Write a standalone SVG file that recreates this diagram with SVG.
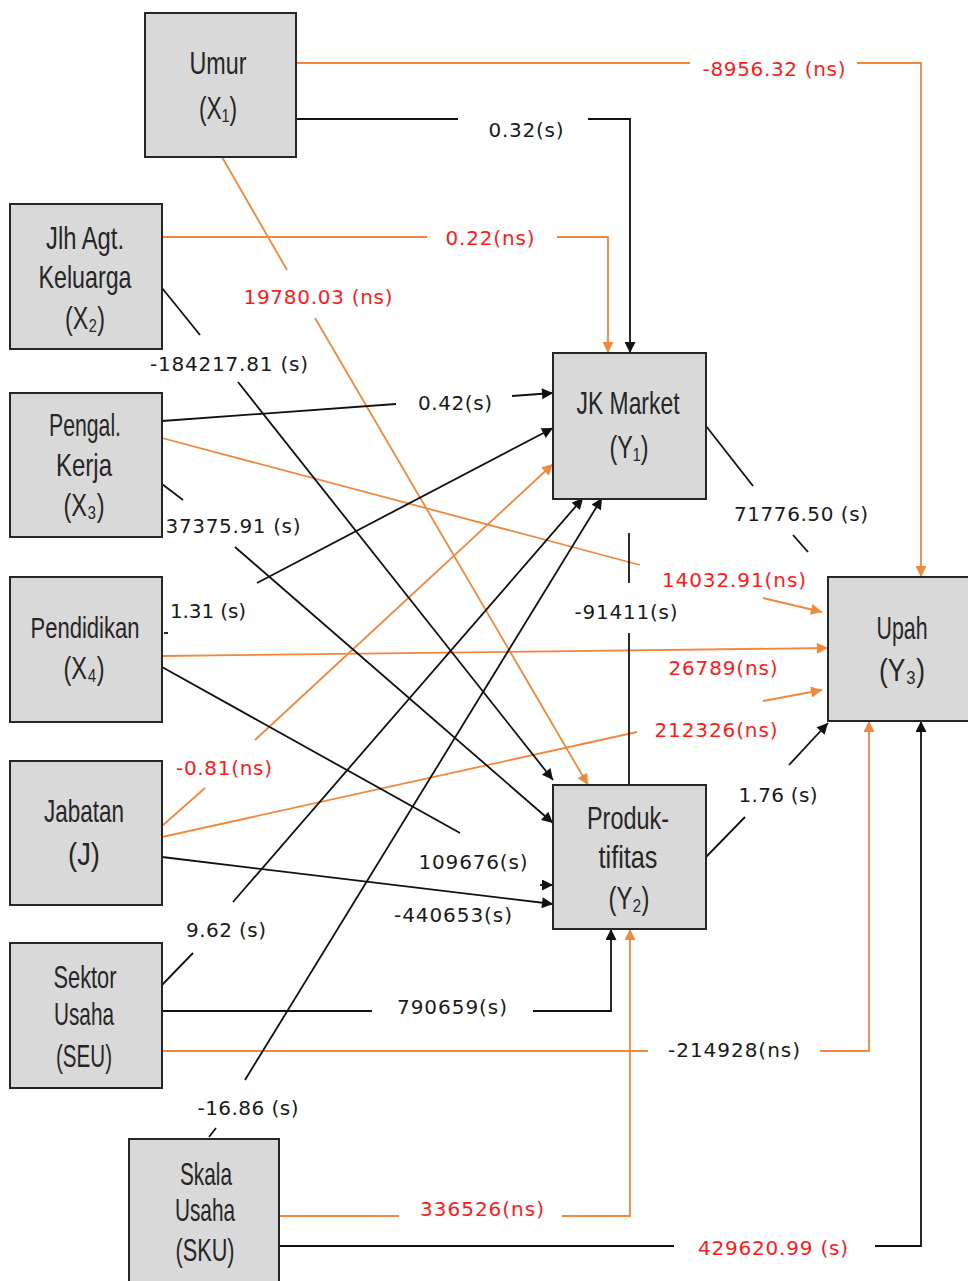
<svg xmlns="http://www.w3.org/2000/svg" width="968" height="1281" viewBox="0 0 968 1281">
<style>
.box{fill:#d9d9d9;stroke:#262626;stroke-width:2}
.nt{font-family:"Liberation Sans","DejaVu Sans",Arial,sans-serif;font-size:32px;fill:#262626;text-anchor:middle}
.k{fill:none;stroke:#111;stroke-width:1.8}
.o{fill:none;stroke:#f0883e;stroke-width:1.8}
.lbl{font-family:"DejaVu Sans",Verdana,sans-serif;font-size:20px;text-anchor:middle}
.s{fill:#1a1a1a}
.ns{fill:#ff1a1a}
</style>
<defs>
<marker id="ak" viewBox="0 0 10 10" refX="10" refY="5" markerWidth="13" markerHeight="11" markerUnits="userSpaceOnUse" orient="auto"><path d="M0,0 L10,5 L0,10 z" fill="#111"/></marker>
<marker id="ao" viewBox="0 0 10 10" refX="10" refY="5" markerWidth="13" markerHeight="11" markerUnits="userSpaceOnUse" orient="auto"><path d="M0,0 L10,5 L0,10 z" fill="#f0883e"/></marker>
</defs>
<rect width="968" height="1281" fill="#fff"/>

<g id="connectors">
<path class="o" d="M296,63 H690"/><path class="o" d="M857,63 H921 V577" marker-end="url(#ao)"/>
<path class="o" d="M162,237 H427"/><path class="o" d="M557,237 H608 V353" marker-end="url(#ao)"/>
<path class="o" d="M222,157 L287,270"/><path class="o" d="M315,318 L588,785" marker-end="url(#ao)"/>
<path class="o" d="M162,438 L640,565"/><path class="o" d="M763,598 L822,612" marker-end="url(#ao)"/>
<path class="o" d="M162,656 L828,648" marker-end="url(#ao)"/>
<path class="o" d="M162,826 L205,788"/><path class="o" d="M255,740 L553,464" marker-end="url(#ao)"/>
<path class="o" d="M162,837 L637,732"/><path class="o" d="M763,701 L822,690" marker-end="url(#ao)"/>
<path class="o" d="M162,1051 H648"/><path class="o" d="M820,1051 H869 V721" marker-end="url(#ao)"/>
<path class="o" d="M279,1216 H399"/><path class="o" d="M562,1216 H630 V929" marker-end="url(#ao)"/>
<path class="k" d="M296,119 H458"/><path class="k" d="M588,119 H630 V353" marker-end="url(#ak)"/>
<path class="k" d="M162,288 L200,335"/><path class="k" d="M238,382 L553,780" marker-end="url(#ak)"/>
<path class="k" d="M162,421 L396,404"/><path class="k" d="M512,396 L553,393" marker-end="url(#ak)"/>
<path class="k" d="M162,484 L183,500"/><path class="k" d="M235,547 L553,823" marker-end="url(#ak)"/>
<path class="k" d="M164,633 H168"/><path class="k" d="M257,583 L553,428" marker-end="url(#ak)"/>
<path class="k" d="M162,667 L460,833"/><path class="k" d="M540,885 L553,885" marker-end="url(#ak)"/>
<path class="k" d="M162,857 L553,904" marker-end="url(#ak)"/>
<path class="k" d="M162,985 L193,953"/><path class="k" d="M233,902 L583,498" marker-end="url(#ak)"/>
<path class="k" d="M162,1011 H372"/><path class="k" d="M533,1011 H611 V929" marker-end="url(#ak)"/>
<path class="k" d="M209,1137 L216,1128"/><path class="k" d="M245,1080 L602,498" marker-end="url(#ak)"/>
<path class="k" d="M279,1246 H674"/><path class="k" d="M875,1246 H921 V721" marker-end="url(#ak)"/>
<path class="k" d="M706,426 L753,486"/><path class="k" d="M793,535 L808,552"/>
<path class="k" d="M629,533 V583"/><path class="k" d="M629,633 V785"/>
<path class="k" d="M706,857 L745,817"/><path class="k" d="M789,765 L828,723" marker-end="url(#ak)"/>

<text class="lbl ns" x="774" y="76" textLength="143">-8956.32 (ns)</text>
<text class="lbl s" x="526" y="137" textLength="75">0.32(s)</text>
<text class="lbl ns" x="490" y="245" textLength="89">0.22(ns)</text>
<text class="lbl ns" x="318" y="304" textLength="149">19780.03 (ns)</text>
<text class="lbl s" x="229" y="371" textLength="158">-184217.81 (s)</text>
<text class="lbl s" x="455" y="410" textLength="74">0.42(s)</text>
<text class="lbl s" x="233" y="533" textLength="135">37375.91 (s)</text>
<text class="lbl s" x="801" y="521" textLength="134">71776.50 (s)</text>
<text class="lbl ns" x="734" y="587" textLength="144">14032.91(ns)</text>
<text class="lbl s" x="626" y="619" textLength="103">-91411(s)</text>
<text class="lbl s" x="208" y="618" textLength="76">1.31 (s)</text>
<text class="lbl ns" x="723" y="675" textLength="109">26789(ns)</text>
<text class="lbl ns" x="716" y="737" textLength="123">212326(ns)</text>
<text class="lbl ns" x="224" y="775" textLength="96">-0.81(ns)</text>
<text class="lbl s" x="778" y="802" textLength="79">1.76 (s)</text>
<text class="lbl s" x="473" y="869" textLength="109">109676(s)</text>
<text class="lbl s" x="453" y="922" textLength="118">-440653(s)</text>
<text class="lbl s" x="226" y="937" textLength="80">9.62 (s)</text>
<text class="lbl s" x="452" y="1014" textLength="110">790659(s)</text>
<text class="lbl s" x="734" y="1057" textLength="132">-214928(ns)</text>
<text class="lbl s" x="248" y="1115" textLength="101">-16.86 (s)</text>
<text class="lbl ns" x="482" y="1216" textLength="124">336526(ns)</text>
<text class="lbl ns" x="773" y="1255" textLength="150">429620.99 (s)</text>
</g>

<g id="umur"><rect class="box" x="145" y="13" width="151" height="144"/>
<text class="nt" x="218" y="74" textLength="57" lengthAdjust="spacingAndGlyphs">Umur</text>
<text class="nt" x="218" y="119" textLength="38" lengthAdjust="spacingAndGlyphs">(X₁)</text></g>

<g id="jlh"><rect class="box" x="10" y="204" width="152" height="145"/>
<text class="nt" x="85" y="249" textLength="78" lengthAdjust="spacingAndGlyphs">Jlh Agt.</text>
<text class="nt" x="85" y="288" textLength="93" lengthAdjust="spacingAndGlyphs">Keluarga</text>
<text class="nt" x="85" y="329" textLength="40" lengthAdjust="spacingAndGlyphs">(X₂)</text></g>

<g id="pengal"><rect class="box" x="10" y="393" width="152" height="144"/>
<text class="nt" x="85" y="436" textLength="72" lengthAdjust="spacingAndGlyphs">Pengal.</text>
<text class="nt" x="84" y="476" textLength="56" lengthAdjust="spacingAndGlyphs">Kerja</text>
<text class="nt" x="84" y="516" textLength="41" lengthAdjust="spacingAndGlyphs">(X₃)</text></g>

<g id="pendidikan"><rect class="box" x="10" y="577" width="152" height="145"/>
<text class="nt" x="85" y="638" textLength="109" lengthAdjust="spacingAndGlyphs" style="font-size:30px">Pendidikan</text>
<text class="nt" x="84" y="679" textLength="41" lengthAdjust="spacingAndGlyphs">(X₄)</text></g>

<g id="jabatan"><rect class="box" x="10" y="761" width="152" height="144"/>
<text class="nt" x="84" y="822" textLength="80" lengthAdjust="spacingAndGlyphs">Jabatan</text>
<text class="nt" x="84" y="865" textLength="32" lengthAdjust="spacingAndGlyphs">(J)</text></g>

<g id="sektor"><rect class="box" x="10" y="943" width="152" height="145"/>
<text class="nt" x="85" y="988" textLength="63" lengthAdjust="spacingAndGlyphs">Sektor</text>
<text class="nt" x="84" y="1025" textLength="60" lengthAdjust="spacingAndGlyphs">Usaha</text>
<text class="nt" x="84" y="1067" textLength="56" lengthAdjust="spacingAndGlyphs">(SEU)</text></g>

<g id="skala"><rect class="box" x="129" y="1139" width="150" height="160"/>
<text class="nt" x="206" y="1185" textLength="52" lengthAdjust="spacingAndGlyphs">Skala</text>
<text class="nt" x="205" y="1221" textLength="60" lengthAdjust="spacingAndGlyphs">Usaha</text>
<text class="nt" x="205" y="1261" textLength="59" lengthAdjust="spacingAndGlyphs">(SKU)</text></g>

<g id="jkmarket"><rect class="box" x="553" y="353" width="153" height="146"/>
<text class="nt" x="628" y="414" textLength="103" lengthAdjust="spacingAndGlyphs">JK Market</text>
<text class="nt" x="629" y="458" textLength="39" lengthAdjust="spacingAndGlyphs">(Y₁)</text></g>

<g id="produktifitas"><rect class="box" x="553" y="785" width="153" height="144"/>
<text class="nt" x="628" y="829" textLength="82" lengthAdjust="spacingAndGlyphs">Produk-</text>
<text class="nt" x="628" y="868" textLength="59" lengthAdjust="spacingAndGlyphs">tifitas</text>
<text class="nt" x="629" y="909" textLength="41" lengthAdjust="spacingAndGlyphs">(Y₂)</text></g>

<g id="upah"><rect class="box" x="828" y="577" width="160" height="144"/>
<text class="nt" x="902" y="639" textLength="51" lengthAdjust="spacingAndGlyphs">Upah</text>
<text class="nt" x="902" y="681" textLength="46" lengthAdjust="spacingAndGlyphs">(Y₃)</text></g>
</svg>
